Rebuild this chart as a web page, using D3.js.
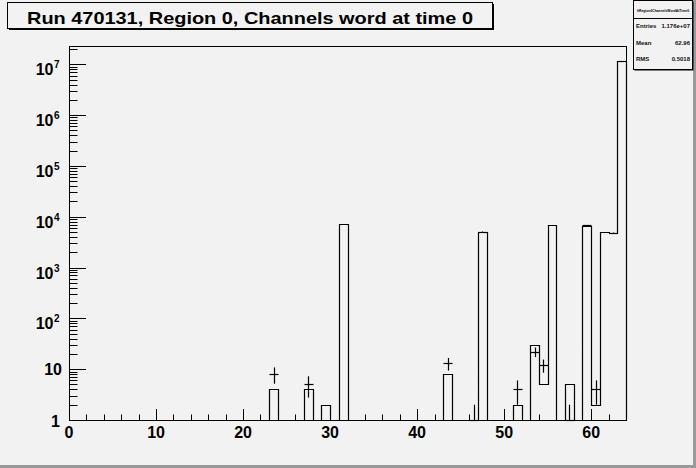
<!DOCTYPE html>
<html>
<head>
<meta charset="utf-8">
<script src="https://cdn.jsdelivr.net/npm/d3@7"></script>
<style>
  html, body { margin: 0; padding: 0; background: #f2f2f2; }
  svg { display: block; font-family: "Liberation Sans", Arial, sans-serif; }
</style>
</head>
<body>
<main></main>
<script>
// bin contents, bins 0..63 (outline histogram)
const barCounts = [
  0, 0, 0, 0, 0, 0, 0, 0, 0, 0,
  0, 0, 0, 0, 0, 0, 0, 0, 0, 0,
  0, 0, 0, 4, 0, 0, 0, 4, 0, 2,
  0, 7300, 0, 0, 0, 0, 0, 0, 0, 0,
  0, 0, 0, 8, 0, 0, 0, 5000, 0, 0,
  0, 2, 0, 30, 5, 7000, 0, 5, 0, 6700,
  2, 5100, 4800, 11750000
]
// second histogram drawn with error crosses
const errCounts = [
  0, 0, 0, 0, 0, 0, 0, 0, 0, 0,
  0, 0, 0, 0, 0, 0, 0, 0, 0, 0,
  0, 0, 0, 8, 0, 0, 0, 5, 0, 0,
  0, 0, 0, 0, 0, 0, 0, 0, 0, 0,
  0, 0, 0, 13, 0, 0, 1, 5050, 0, 0,
  0, 4, 0, 22, 12, 0, 0, 1, 0, 6750,
  4, 0, 4820, 11750000
]
const xTicks = [0, 10, 20, 30, 40, 50, 60]
const yDecades = [0, 1, 2, 3, 4, 5, 6, 7]
const titleText = "Run 470131, Region 0, Channels word at time 0"
const statsName = "hRegion0ChannelsWordAtTime0"
const statsRows = [["Entries", "1.176e+07"], ["Mean", "62.96"], ["RMS", "0.5018"]]

const width = 696, height = 468
const frame = { left: 69, right: 626, top: 46, bottom: 420 }

let svg = d3.select("main")
    .append("svg")
    .attr("width", width)
    .attr("height", height)

svg.append("rect").attr("width", width).attr("height", height).attr("fill", "#f2f2f2")
// canvas bevel
svg.append("rect").attr("x", 0).attr("y", 465).attr("width", width).attr("height", 3).attr("fill", "#9a9a9a")
svg.append("rect").attr("x", 693).attr("y", 0).attr("width", 3).attr("height", height).attr("fill", "#9a9a9a")

let x = d3.scaleLinear().domain([0, 64]).range([frame.left, frame.right])
let y = d3.scaleLog().domain([1, Math.pow(10, 7.36)]).range([frame.bottom, frame.top])
const yv = v => v > 0 ? Math.min(frame.bottom, y(v)) : frame.bottom

// frame
svg.append("rect")
    .attr("x", frame.left + 0.5).attr("y", frame.top + 0.5)
    .attr("width", frame.right - frame.left).attr("height", frame.bottom - frame.top)
    .attr("fill", "#f2f2f2").attr("stroke", "black")

// outline histogram
let pts = [[x(0), frame.bottom]]
barCounts.forEach((c, i) => {
    pts.push([x(i), yv(c)])
    pts.push([x(i + 1), yv(c)])
})
pts.push([x(64), frame.bottom])
svg.append("path")
    .attr("d", d3.line().x(d => Math.round(d[0]) + 0.5).y(d => Math.round(d[1]) + 0.5)(pts))
    .attr("fill", "none").attr("stroke", "black").attr("stroke-width", 1.2)

// error crosses
let errs = svg.append("g").attr("stroke", "black").attr("stroke-width", 1.2)
errCounts.forEach((c, i) => {
    if (c <= 0) return
    let cx = Math.round(x(i + 0.5)) + 0.5
    let e = Math.sqrt(c)
    errs.append("line")
        .attr("x1", cx).attr("x2", cx)
        .attr("y1", yv(c + e)).attr("y2", yv(c - e))
    errs.append("line")
        .attr("x1", Math.round(x(i)) + 0.5).attr("x2", Math.round(x(i + 1)) + 0.5)
        .attr("y1", Math.round(yv(c)) + 0.5).attr("y2", Math.round(yv(c)) + 0.5)
})

// x axis ticks
let xAxis = svg.append("g").attr("stroke", "black").attr("stroke-width", 1)
d3.range(0, 65, 2).forEach(t => {
    let len = t % 10 === 0 ? 11 : 5.5
    let px = Math.round(x(t)) + 0.5
    xAxis.append("line").attr("x1", px).attr("x2", px)
        .attr("y1", frame.bottom).attr("y2", frame.bottom - len)
})
svg.append("g").selectAll("text").data(xTicks).enter().append("text")
    .attr("x", d => x(d)).attr("y", 437.5)
    .attr("text-anchor", "middle")
    .attr("font-size", 16).attr("font-weight", "bold")
    .text(d => d)

// y axis ticks
let yAxis = svg.append("g").attr("stroke", "black").attr("stroke-width", 1)
yDecades.forEach(p => {
    for (let m = 1; m <= 9; m++) {
        let v = m * Math.pow(10, p)
        if (y(v) < frame.top) continue
        let py = Math.round(y(v)) + 0.5
        yAxis.append("line").attr("x1", frame.left).attr("x2", frame.left + (m === 1 ? 17 : 8.5))
            .attr("y1", py).attr("y2", py)
    }
})
let ylab = svg.append("g").attr("font-weight", "bold")
yDecades.forEach(p => {
    let py = y(Math.pow(10, p))
    if (p === 0) {
        ylab.append("text").attr("x", 60).attr("y", py + 6.5).attr("text-anchor", "end")
            .attr("font-size", 16).text("1")
    } else if (p === 1) {
        ylab.append("text").attr("x", 62).attr("y", py + 6).attr("text-anchor", "end")
            .attr("font-size", 16).text("10")
    } else {
        ylab.append("text").attr("x", 53.5).attr("y", py + 11).attr("text-anchor", "end")
            .attr("font-size", 16).text("10")
        ylab.append("text").attr("x", 54).attr("y", py + 4).attr("text-anchor", "start")
            .attr("font-size", 10).text(p)
    }
})

// title box
svg.append("rect").attr("x", 9).attr("y", 4).attr("width", 485).attr("height", 26).attr("fill", "black")
svg.append("rect").attr("x", 7.5).attr("y", 2.5).attr("width", 485).attr("height", 26)
    .attr("fill", "#f2f2f2").attr("stroke", "black")
svg.append("text").attr("x", 250).attr("y", 24)
    .attr("text-anchor", "middle").attr("font-size", 17).attr("font-weight", "bold")
    .attr("textLength", 446).attr("lengthAdjust", "spacingAndGlyphs")
    .text(titleText)

// stats box
svg.append("rect").attr("x", 634.5).attr("y", 1.5).attr("width", 59).attr("height", 69).attr("fill", "black")
svg.append("rect").attr("x", 633.5).attr("y", 0.5).attr("width", 59).attr("height", 69)
    .attr("fill", "#f2f2f2").attr("stroke", "black")
svg.append("line").attr("x1", 633.5).attr("x2", 692.5).attr("y1", 18.5).attr("y2", 18.5).attr("stroke", "black")
svg.append("text").attr("x", 663).attr("y", 12).attr("text-anchor", "middle")
    .attr("font-size", 4.4).attr("font-weight", "bold")
    .attr("textLength", 52).attr("lengthAdjust", "spacingAndGlyphs").text(statsName)
let stats = svg.append("g").attr("font-size", 6).attr("font-weight", "bold").attr("fill", "#111")
statsRows.forEach((r, i) => {
    let ty = 28 + i * 16.5
    stats.append("text").attr("x", 636).attr("y", ty).text(r[0])
    stats.append("text").attr("x", 690).attr("y", ty).attr("text-anchor", "end").text(r[1])
})
</script>
</body>
</html>
